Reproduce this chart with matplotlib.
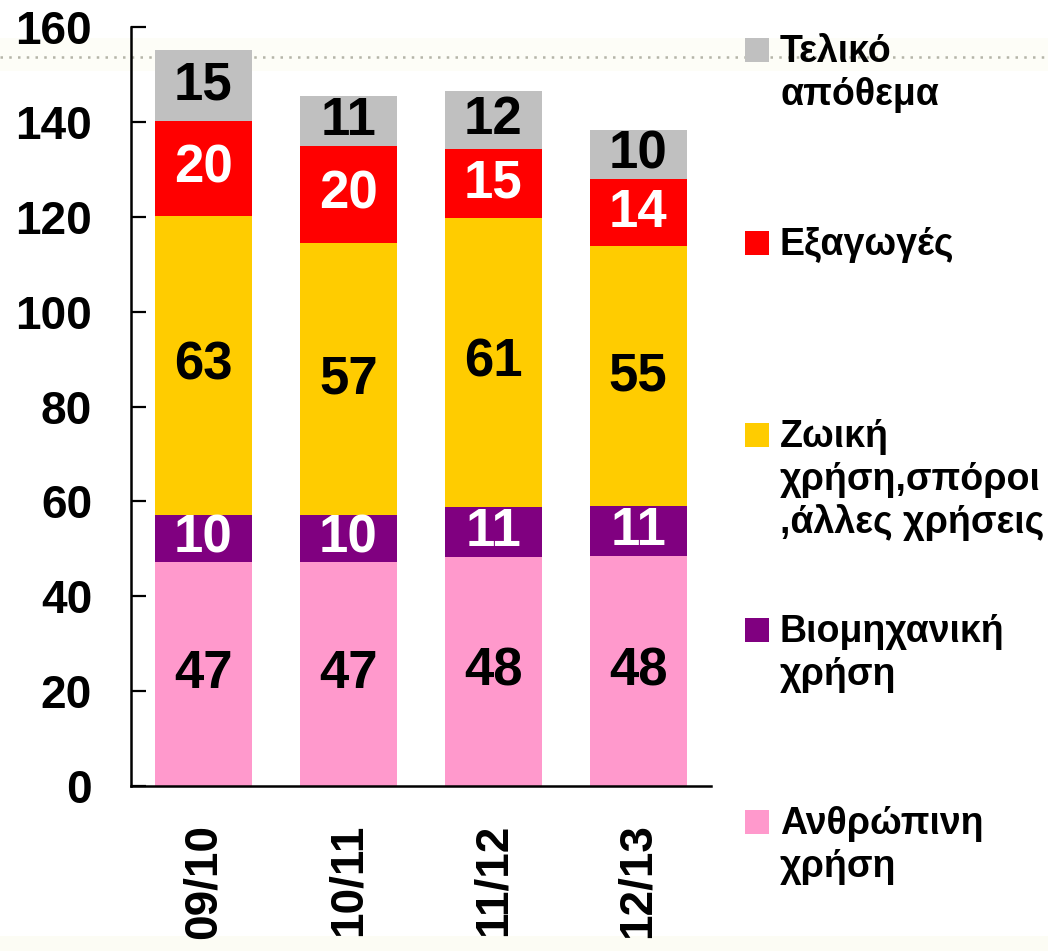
import matplotlib
matplotlib.use("Agg")
import matplotlib.pyplot as plt
from matplotlib.patches import Rectangle
from matplotlib.lines import Line2D
import numpy as np

plt.rcParams['font.family'] = ['Liberation Sans', 'DejaVu Sans']
plt.rcParams['font.weight'] = 'bold'

categories = ["09/10", "10/11", "11/12", "12/13"]
series_names = ["Ανθρώπινη\nχρήση", "Βιομηχανική\nχρήση",
                "Ζωική\nχρήση,σπόροι\n,άλλες χρήσεις", "Εξαγωγές",
                "Τελικό\nαπόθεμα"]
human = [47.3, 47.3, 48.3, 48.4]
industrial = [9.8, 9.8, 10.6, 10.6]
feed_seed_other = [63.1, 57.4, 60.8, 54.8]
exports = [20.0, 20.4, 14.6, 14.2]
ending_stock = [14.9, 10.6, 12.3, 10.4]
colors = ["#FF99CC", "#800080", "#FFCC00", "#FF0000", "#C0C0C0"]
label_colors = ["black", "white", "black", "white", "black"]
yticks = [0, 20, 40, 60, 80, 100, 120, 140, 160]

series = [human, industrial, feed_seed_other, exports, ending_stock]

fig = plt.figure(figsize=(10.48, 9.51), dpi=100)
fig.patch.set_facecolor("white")

# decorative background
fig.add_artist(Rectangle((0, 0.925), 1, 0.035, transform=fig.transFigure,
                         facecolor="#fdfdf7", edgecolor="none", zorder=0))
fig.add_artist(Rectangle((0, 0), 1, 0.016, transform=fig.transFigure,
                         facecolor="#fcfcf4", edgecolor="none", zorder=0))
fig.add_artist(Line2D([0, 1], [0.940, 0.940], transform=fig.transFigure,
                      color="#b5b5a8", linestyle=(0, (1, 2.5)), linewidth=1.8,
                      zorder=0.5))

ax = fig.add_axes([0.125, 0.1735, 0.553, 0.798])
ax.patch.set_visible(False)
ax.set_zorder(1)

x = np.arange(len(categories))
bottom = np.zeros(len(categories))
for vals, col, lc in zip(series, colors, label_colors):
    vals = np.array(vals)
    ax.bar(x, vals, width=0.67, bottom=bottom, color=col, edgecolor="none", zorder=2)
    for xi, b, v in zip(x, bottom, vals):
        ax.text(xi, b + v / 2, f"{int(round(v))}", ha="center", va="center",
                fontsize=38, fontweight="bold", color=lc, zorder=3)
    bottom = bottom + vals

ax.set_xlim(-0.5, 3.5)
ax.set_ylim(0, 160)
ax.set_yticks(yticks)
ax.set_yticklabels([str(t) for t in yticks], fontsize=33, fontweight="bold")
ax.set_xticks(x)
ax.set_xticklabels(categories, rotation=90, fontsize=33, fontweight="bold")
ax.tick_params(axis="y", direction="in", length=11, width=1.6, pad=28)
ax.tick_params(axis="x", length=0, pad=27)
for s in ["top", "right"]:
    ax.spines[s].set_visible(False)
for s in ["left", "bottom"]:
    ax.spines[s].set_linewidth(1.8)
    ax.spines[s].set_color("black")

# legend (manual, top to bottom)
W, H = 1048.0, 951.0
centers_px = [50, 243, 435, 630, 822]
order = list(range(len(series_names)))[::-1]
for cy, idx in zip(centers_px, order):
    sq = 24
    fig.add_artist(Rectangle((745 / W, 1 - (cy + sq / 2) / H), sq / W, sq / H,
                             transform=fig.transFigure, facecolor=colors[idx],
                             edgecolor="none", zorder=3))
    lines = series_names[idx].split("\n")
    for k, ln in enumerate(lines):
        fig.text(780 / W, 1 - (cy + 12 + 43 * k) / H, ln, ha="left", va="baseline",
                 fontsize=27, fontweight="bold", color="black")

fig.savefig("out.png", dpi=100)
